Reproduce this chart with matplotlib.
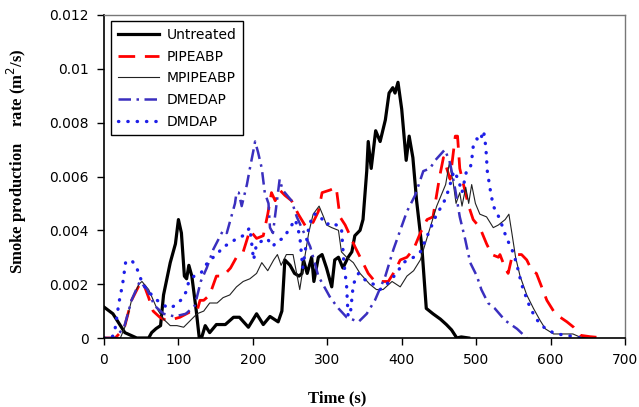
import matplotlib
matplotlib.use("Agg")
import matplotlib.pyplot as plt

# ---------------- data ----------------
untreated_t = [0, 12, 28, 44, 60, 64, 70, 76, 80, 89, 96, 100, 104, 108, 111, 114, 118, 124, 128, 131,
               136, 142, 151, 163, 174, 182, 194, 205, 214, 223, 234, 239, 243, 250, 256, 262, 266, 268,
               273, 279, 282, 288, 293, 299, 306, 310, 315, 321, 328, 333, 337, 344, 348, 353, 355, 359,
               365, 371, 378, 383, 388, 391, 395, 400, 406, 410, 415, 420, 427, 433, 442, 452, 460, 467,
               474, 480, 490]
untreated_y = [0.00115, 0.0009, 0.0002, 0.0, 0.0, 0.0002, 0.00035, 0.00046, 0.0016, 0.0028, 0.0035, 0.0044,
               0.0039, 0.0023, 0.0022, 0.0027, 0.0023, 0.001, 0.0, 0.0, 0.00046, 0.0002, 0.0005, 0.0005,
               0.00077, 0.00077, 0.0004, 0.0009, 0.0005, 0.0008, 0.0006, 0.001, 0.0029, 0.0027, 0.0024,
               0.0023, 0.0024, 0.0029, 0.0024, 0.003, 0.0021, 0.003, 0.0031, 0.0026, 0.0019, 0.0029, 0.003,
               0.0026, 0.003, 0.0032, 0.0038, 0.004, 0.0044, 0.0062, 0.0073, 0.0063, 0.0077, 0.0073, 0.0081,
               0.0091, 0.0093, 0.0091, 0.0095, 0.0085, 0.0066, 0.0075, 0.0067, 0.0051, 0.0034, 0.0011,
               0.0009, 0.0007, 0.0005, 0.0003, 0.0, 0.00004, 0.0]

pipeabp_t = [0, 15, 27, 37, 48, 52, 60, 66, 75, 84, 93, 102, 115, 125, 129, 134, 142, 151, 160, 170, 178,
             187, 196, 205, 214, 220, 225, 230, 236, 243, 252, 261, 272, 281, 288, 293, 304, 312, 317, 324,
             329, 337, 346, 355, 364, 373, 382, 391, 398, 407, 416, 425, 434, 442, 451, 456, 465, 472, 475,
             478, 483, 490, 496, 505, 514, 521, 530, 532, 539, 543, 548, 554, 561, 568, 575, 581, 588, 595,
             604, 613, 622, 631, 640, 653, 673]
pipeabp_y = [0, 0, 0.00035, 0.0014, 0.002, 0.0021, 0.0015, 0.001, 0.00077, 0.00065, 0.0007, 0.00077,
             0.00096, 0.001, 0.0014, 0.0014, 0.0016, 0.0023, 0.0023, 0.0026, 0.003, 0.0032, 0.004, 0.0037,
             0.0038, 0.0046, 0.0054, 0.0051, 0.0055, 0.0053, 0.0051, 0.0046, 0.0041, 0.0043, 0.0047, 0.0054,
             0.0055, 0.0056, 0.0045, 0.0042, 0.0039, 0.0034, 0.0029, 0.0024, 0.0021, 0.0021, 0.0021, 0.0025,
             0.0029, 0.003, 0.0033, 0.0039, 0.0044, 0.0045, 0.006, 0.0067, 0.0059, 0.0075, 0.0075, 0.0063,
             0.0057, 0.0049, 0.0044, 0.0041, 0.0035, 0.0031, 0.003, 0.0031, 0.0026, 0.0024, 0.003, 0.0031,
             0.0031, 0.0029, 0.0025, 0.0024, 0.0019, 0.0014, 0.001, 0.00077, 0.0006, 0.0004, 0.0001,
             0.00005, 0.0]

mpipeabp_t = [0, 22, 28, 37, 47, 51, 60, 71, 80, 89, 98, 107, 116, 125, 134, 142, 152, 160, 169, 178, 187,
              196, 205, 212, 220, 228, 233, 238, 245, 254, 263, 268, 275, 281, 289, 295, 299, 306, 315, 319,
              326, 335, 344, 357, 366, 375, 387, 398, 407, 416, 425, 436, 447, 459, 464, 469, 473, 478, 481,
              486, 490, 494, 499, 505, 514, 523, 530, 539, 544, 548, 553, 559, 568, 577, 586, 593, 604, 630,
              640, 650]
mpipeabp_y = [0, 0, 0.0004, 0.0014, 0.002, 0.0021, 0.0018, 0.0011, 0.0007, 0.00046, 0.00046, 0.0004,
              0.00065, 0.0009, 0.001, 0.0013, 0.0013, 0.0015, 0.0016, 0.0019, 0.0021, 0.0022, 0.0024, 0.0028,
              0.0025, 0.0029, 0.0031, 0.0027, 0.0031, 0.0031, 0.0018, 0.0027, 0.0039, 0.0046, 0.0049, 0.0045,
              0.0042, 0.0041, 0.004, 0.0032, 0.003, 0.0028, 0.0024, 0.002, 0.0018, 0.0018, 0.0021, 0.0019,
              0.0023, 0.0025, 0.0029, 0.0039, 0.0049, 0.0057, 0.0065, 0.0058, 0.005, 0.0054, 0.0049, 0.0056,
              0.005, 0.0057, 0.005, 0.0046, 0.0045, 0.0041, 0.0042, 0.0044, 0.0046, 0.0039, 0.003, 0.0023,
              0.0016, 0.0011, 0.00065, 0.00034, 0.00015, 0.00015, 0.00003, 0.0]

dmedap_t = [0, 15, 27, 37, 48, 58, 68, 80, 95, 110, 122, 130, 138, 147, 160, 165, 176, 178, 181, 185, 192,
            196, 201, 203, 207, 212, 216, 221, 223, 227, 236, 240, 252, 259, 277, 288, 304, 315, 326, 342,
            353, 364, 378, 389, 398, 407, 418, 429, 438, 445, 458, 465, 472, 478, 485, 492, 501, 507, 516,
            525, 539, 555, 568]
dmedap_y = [0, 0, 0.0004, 0.0014, 0.0021, 0.0018, 0.0012, 0.0009, 0.0008, 0.0009, 0.0012, 0.0021, 0.0026,
            0.0033, 0.004, 0.0039, 0.005, 0.0054, 0.0054, 0.0049, 0.0057, 0.0063, 0.007, 0.0073, 0.0069,
            0.0063, 0.0054, 0.005, 0.0041, 0.0039, 0.0059, 0.0055, 0.0051, 0.0045, 0.0034, 0.0023, 0.0015,
            0.0011, 0.00077, 0.0006, 0.0009, 0.0014, 0.0023, 0.0033, 0.004, 0.0047, 0.0053, 0.0062, 0.0063,
            0.0066, 0.007, 0.0065, 0.0055, 0.0045, 0.0037, 0.0028, 0.0023, 0.0018, 0.0013, 0.0011, 0.00065,
            0.00034, 0.0]

dmdap_t = [0, 10, 14, 20, 25, 29, 37, 44, 52, 58, 67, 76, 87, 95, 103, 110, 114, 121, 130, 139, 142, 152,
           160, 169, 178, 187, 196, 201, 205, 219, 227, 232, 241, 250, 257, 263, 267, 275, 281, 288, 299,
           304, 312, 319, 322, 326, 328, 331, 335, 342, 353, 362, 371, 380, 393, 402, 416, 425, 436, 447,
           456, 463, 470, 476, 481, 487, 492, 494, 496, 501, 505, 510, 513, 515, 519, 523, 527, 532, 541,
           548, 554, 561, 570, 579, 588, 597, 608, 622, 640]
dmdap_y = [0, 0, 0.00017, 0.0013, 0.002, 0.0028, 0.0029, 0.0026, 0.002, 0.0018, 0.0015, 0.0013, 0.0011,
           0.0012, 0.0014, 0.0017, 0.0021, 0.0023, 0.0024, 0.0028, 0.0029, 0.0031, 0.0034, 0.0035, 0.0037,
           0.0038, 0.0041, 0.0029, 0.0035, 0.0037, 0.0034, 0.0036, 0.0037, 0.0041, 0.0044, 0.0038, 0.0026,
           0.0041, 0.0046, 0.0046, 0.0042, 0.0043, 0.0042, 0.0041, 0.0029, 0.0019, 0.0008, 0.0009, 0.002,
           0.0024, 0.0021, 0.002, 0.0018, 0.002, 0.0024, 0.0028, 0.003, 0.0032, 0.0039, 0.0046, 0.005,
           0.0055, 0.0062, 0.0059, 0.0054, 0.0062, 0.0063, 0.0066, 0.0071, 0.0074, 0.0073, 0.0077, 0.0071,
           0.0062, 0.0055, 0.0049, 0.0047, 0.0044, 0.0037, 0.0033, 0.0028, 0.002, 0.0013, 0.00077, 0.00046,
           0.00028, 0.00015, 0.0001, 0.0]

series_labels = ["Untreated", "PIPEABP", "MPIPEABP", "DMEDAP", "DMDAP"]
x_ticks = [0, 100, 200, 300, 400, 500, 600, 700]
y_ticks = [0, 0.002, 0.004, 0.006, 0.008, 0.01, 0.012]
y_tick_labels = ["0", "0.002", "0.004", "0.006", "0.008", "0.01", "0.012"]

# ---------------- figure ----------------
fig = plt.figure(figsize=(6.39, 4.07), dpi=100)
ax = fig.add_axes([104/639, 1-338/407, (625-104)/639, (338-15)/407])

ax.plot(untreated_t, untreated_y, color="black", lw=2.3, label=series_labels[0], solid_joinstyle="round")
ax.plot(pipeabp_t, pipeabp_y, color="#FF0000", lw=2.0, dashes=(6, 3.5), label=series_labels[1])
ax.plot(mpipeabp_t, mpipeabp_y, color="#222222", lw=0.8, label=series_labels[2])
ax.plot(dmedap_t, dmedap_y, color="#3A2FBF", lw=1.8, dashes=(5, 2.2, 1, 2.2), label=series_labels[3])
ax.plot(dmdap_t, dmdap_y, color="#1E1EE8", lw=2.4, linestyle=(0, (0.1, 2.7)),
        dash_capstyle="round", label=series_labels[4])

ax.set_xlim(0, 700)
ax.set_ylim(0, 0.012)
ax.set_xticks(x_ticks)
ax.set_xticklabels([str(v) for v in x_ticks])
ax.set_yticks(y_ticks)
ax.set_yticklabels(y_tick_labels)
ax.tick_params(direction="out", length=5, width=1, labelsize=10, colors="black", pad=6)

for s in ["left", "bottom"]:
    ax.spines[s].set_color("black")
    ax.spines[s].set_linewidth(1.2)
for s in ["top", "right"]:
    ax.spines[s].set_color("#777777")
    ax.spines[s].set_linewidth(1.0)

leg = ax.legend(loc="upper left", bbox_to_anchor=(7/521, 1-6/323), borderaxespad=0,
                fancybox=False, edgecolor="black", framealpha=1, fontsize=10,
                handlelength=2.95, handletextpad=0.55, labelspacing=0.55, borderpad=0.5)
leg.get_frame().set_linewidth(1.0)

fig.text(337/639, 1-398/407, "Time (s)", family="Liberation Serif", weight="bold",
         fontsize=12, ha="center", va="center")
fig.text(17/639, 1-161/407, "Smoke production    rate (m$^2$/s)", family="Liberation Serif",
         weight="bold", fontsize=12, ha="center", va="center", rotation=90)

fig.savefig("out.png", dpi=100)
